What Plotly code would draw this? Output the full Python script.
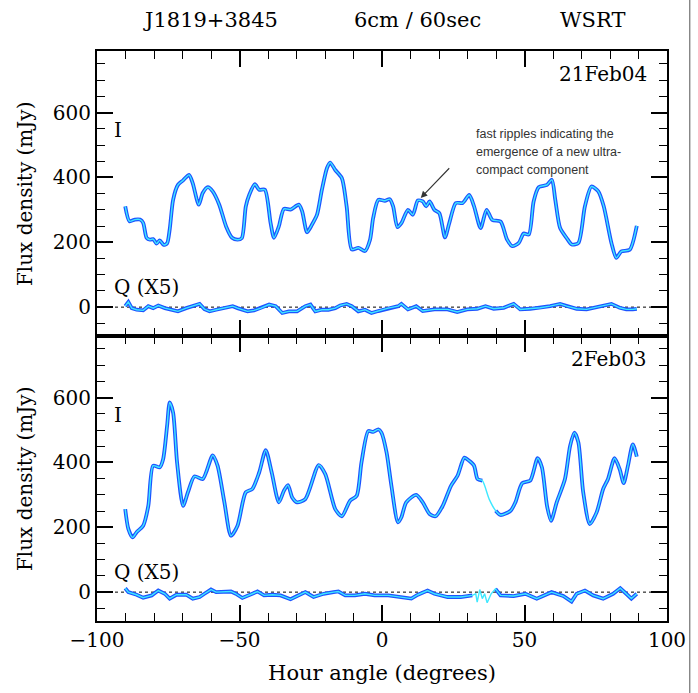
import plotly.graph_objects as go

# ---------------- data ----------------
# 21Feb04 : Stokes I
ha_i_top = [-90.1, -88.6, -86.7, -84.9, -83.8, -82.6, -81.4, -80.3, -79.1, -78.0, -76.6, -75.4,
            -74.5, -73.3, -71.6, -69.8, -67.7, -66.4, -64.3, -62.9, -61.1, -59.4, -57.1, -54.7,
            -52.6, -50.7, -49.2, -47.8, -46.6, -44.6, -43.1, -41.1, -39.1, -37.9, -36.2, -34.4,
            -32.1, -29.2, -28.0, -26.3, -24.6, -22.8, -21.1, -19.3, -18.2, -16.4, -14.1, -12.4,
            -10.6, -8.3, -6.0, -4.2, -3.1, -1.3, 1.0, 2.7, 3.9, 5.4, 6.8, 9.1, 10.8, 12.6, 14.3,
            15.5, 16.7, 18.4, 20.1, 22.1, 23.6, 25.9, 28.3, 30.6, 32.3, 34.6, 36.7, 38.7, 41.6,
            43.9, 45.7, 48.0, 49.7, 51.5, 53.2, 55.0, 57.9, 59.6, 60.8, 62.5, 64.8, 66.6, 68.9,
            71.2, 73.5, 75.9, 77.8, 80.5, 82.2, 84.0, 86.9, 89.4]
i_top = [311, 265, 270, 270, 260, 214, 208, 210, 196, 206, 192, 197,
         239, 331, 377, 391, 408, 382, 316, 352, 370, 357, 316, 249,
         214, 208, 213, 310, 346, 379, 362, 362, 260, 214, 249, 303,
         301, 316, 295, 231, 254, 285, 362, 429, 446, 423, 398, 310,
         178, 183, 173, 208, 275, 331, 328, 333, 311, 247, 259, 300, 285, 329, 326,
         311, 326, 300, 290, 215, 259, 321, 321, 346, 311, 244, 300, 269, 264,
         208, 188, 198, 227, 224, 326, 370, 377, 393, 331, 244, 213, 193, 198,
         311, 372, 357, 311, 198, 152, 172, 177, 251]

# 21Feb04 : Stokes Q (x5)
ha_q_top = [-90.1, -89.0, -87.8, -86.1, -83.8, -82.0, -80.3, -78.5, -76.2, -74.5, -71.6, -68.7,
            -66.4, -64.0, -62.3, -60.5, -58.2, -55.9, -52.4, -50.7, -47.2, -44.9, -42.5, -39.6,
            -37.3, -35.0, -32.7, -29.8, -26.9, -25.1, -23.4, -21.1, -18.8, -16.4, -14.7, -12.4,
            -10.6, -8.3, -6.0, -3.7, -1.3, 2.2, 5.7, 6.8, 9.1, 12.0, 14.3, 18.4, 23.0, 26.4,
            29.9, 33.4, 36.3, 39.2, 42.7, 46.2, 48.5, 52.0, 55.5, 59.0, 62.5, 64.8, 68.3, 71.8,
            76.4, 80.5, 83.4, 85.7, 88.0, 89.4]
q_top = [3, 16, -3, -8, -10, 3, -3, 5, -3, -6, -13, -3,
         3, 10, -6, -13, -8, -3, 3, -3, -13, -10, -3, 8,
         3, -18, -13, -13, 3, 8, -13, -8, -8, -3, 5, 10,
         3, -13, -8, -18, -12, -3, 3, 10, -7, 3, -12, -7, -7, -15,
         -7, -5, 3, -5, -2, 10, -7, -5, -2, 3, 10, 3, -5, -7,
         3, 10, -2, -7, -7, -5]

# 2Feb03 : Stokes I
ha_i_bot = [-90.1, -89.0, -87.5, -86.1, -83.8, -82.0, -80.3, -78.0, -76.8, -75.4, -74.5, -73.3,
            -71.9, -69.8, -68.1, -65.8, -62.9, -59.4, -57.7, -55.3, -53.0, -50.7, -47.8, -45.5,
            -43.1, -40.8, -38.7, -36.2, -34.4, -33.0, -31.5, -29.8, -26.9, -22.2, -19.9, -16.4,
            -14.1, -11.2, -8.9, -7.2, -4.8, -3.1, -1.3, -0.2, 1.6, 3.3, 5.6, 6.8, 8.5, 12.0,
            14.3, 16.7, 18.8, 21.3, 24.2, 26.5, 28.9, 30.6, 32.3, 33.5, 35.2, 37.6, 39.9, 41.6,
            45.1, 46.8, 49.2, 52.0, 54.6, 56.1, 57.9, 59.3, 61.3, 64.2, 66.0, 67.5, 68.9, 70.6,
            72.9, 75.3, 77.6, 79.3, 81.6, 83.4, 84.8, 86.3, 88.0, 89.4]
i_bot = [256, 195, 169, 185, 205, 266, 390, 385, 410, 513, 585, 554,
         400, 266, 308, 357, 349, 422, 390, 277, 174, 205, 308, 318,
         369, 438, 369, 277, 313, 330, 292, 277, 287, 392, 364, 256,
         234, 282, 297, 400, 497, 494, 502, 492, 431, 328, 215, 231, 277, 300,
         277, 241, 234, 266, 328, 359, 415, 405, 390, 349, 344, 287, 251, 238,
         251, 277, 336, 344, 413, 385, 266, 220, 277, 349, 451, 492, 462, 308,
         210, 246, 318, 349, 413, 379, 336, 390, 456, 418]

# 2Feb03 : Stokes Q (x5)
ha_q_bot = [-90.1, -89.0, -86.1, -83.8, -80.8, -78.5, -76.2, -74.5, -72.1, -68.7, -66.4, -64.0,
            -62.3, -60.0, -58.2, -55.3, -53.0, -51.3, -49.0, -45.5, -43.7, -41.4, -38.5, -35.6,
            -32.1, -29.8, -26.9, -24.0, -20.5, -17.0, -15.3, -12.9, -9.5, -6.0, -2.6, 2.2,
            6.8, 10.3, 12.6, 16.0, 18.4, 23.0, 27.6, 31.7, 32.9, 33.4, 34.3, 35.2, 36.0, 36.9,
            38.3, 39.8, 41.6, 46.2, 50.3, 54.3, 59.5, 63.6, 66.5, 68.3, 71.2, 74.1, 77.6, 81.1,
            83.6, 85.7, 87.5, 89.4]
q_bot = [12, 0, -8, -17, -10, 5, -5, -20, -8, -8, -20, -15,
         -5, 8, 0, 0, 2, -5, -18, -5, 2, -10, -8, -10,
         -22, -12, 0, -15, -5, 0, 2, -10, -10, -5, -10, -10,
         -15, -20, -8, 5, -5, -15, -15, -10, -5, -31, 8, -20, -5, -33,
         -5, 10, -10, -12, -5, -20, 0, -12, -29, -5, 5, -10, -20, -5,
         12, -5, -20, -5]

# hour-angle intervals where only the connecting line (no sample markers) is present
gaps_i_bot = [(35.5, 39.5)]
gaps_q_bot = [(32.5, 39.7)]

title_parts = ["J1819+3845", "6cm / 60sec", "WSRT"]
epochs = ["21Feb04", "2Feb03"]
x_ticks = [-100, -50, 0, 50, 100]
y_ticks = [0, 200, 400, 600]

# ---------------- styling ----------------
BLUE = "#1c54ff"
CYAN = "#3ee8ff"
SERIF = "DejaVu Serif"
FS = 20


def masked(xs, ys, gaps):
    out = []
    for x, y in zip(xs, ys):
        out.append(None if any(a <= x <= b for a, b in gaps) else y)
    return out


fig = go.Figure()


def add_curve(xs, ys, xa, ya, smooth, gaps=()):
    shape = "spline" if smooth else "linear"
    fig.add_trace(go.Scatter(x=xs, y=masked(xs, ys, gaps), xaxis=xa, yaxis=ya, mode="lines",
                             line=dict(color=BLUE, width=3.8, shape=shape, smoothing=0.7),
                             connectgaps=False, hoverinfo="skip", showlegend=False))
    fig.add_trace(go.Scatter(x=xs, y=ys, xaxis=xa, yaxis=ya, mode="lines",
                             line=dict(color=CYAN, width=1.4, shape=shape, smoothing=0.7),
                             hoverinfo="skip", showlegend=False))


add_curve(ha_i_top, i_top, "x2", "y2", True)
add_curve(ha_q_top, q_top, "x2", "y2", False)
add_curve(ha_i_bot, i_bot, "x", "y", True, gaps_i_bot)
add_curve(ha_q_bot, q_bot, "x", "y", False, gaps_q_bot)

axis_common = dict(
    showline=True, linecolor="black", linewidth=2, mirror="ticks",
    ticks="inside", tickcolor="black", tickwidth=1.5, ticklen=16,
    showgrid=False, zeroline=False,
    tickfont=dict(family=SERIF, size=FS, color="black"),
)

yr = [-89, 790]
fig.update_layout(
    width=698, height=693,
    margin=dict(l=97, r=27, t=51, b=71),
    plot_bgcolor="white", paper_bgcolor="white",
    xaxis=dict(domain=[0, 1], anchor="y", range=[-100, 100], tickvals=x_ticks,
               minor=dict(dtick=10, ticks="inside", ticklen=8, tickcolor="black", tickwidth=1.2),
               title=dict(text="Hour angle (degrees)", font=dict(family=SERIF, size=FS + 1, color="black"),
                          standoff=14),
               **axis_common),
    xaxis2=dict(domain=[0, 1], anchor="y2", range=[-100, 100], tickvals=x_ticks, matches="x",
                showticklabels=False,
                minor=dict(dtick=10, ticks="inside", ticklen=8, tickcolor="black", tickwidth=1.2),
                **axis_common),
    yaxis=dict(domain=[0, 0.5], anchor="x", range=yr, tickvals=y_ticks,
               minor=dict(dtick=50, ticks="inside", ticklen=8, tickcolor="black", tickwidth=1.2),
               **axis_common),
    yaxis2=dict(domain=[0.5, 1], anchor="x2", range=yr, tickvals=y_ticks,
                minor=dict(dtick=50, ticks="inside", ticklen=8, tickcolor="black", tickwidth=1.2),
                **axis_common),
)

# dotted zero lines
for xr, yref in (("x2 domain", "y2"), ("x domain", "y")):
    fig.add_shape(type="line", xref=xr, yref=yref, x0=0, x1=1, y0=0, y1=0,
                  line=dict(color="black", width=1, dash="dot"), layer="below")

# right border line of the original figure
fig.add_shape(type="line", xref="paper", yref="paper", x0=1.04, x1=1.04, y0=-0.13, y1=1.1,
              line=dict(color="#555555", width=1))

ann = []
# title
for txt, px in zip(title_parts, [0.199, 0.563, 0.869]):
    ann.append(dict(text=txt, xref="paper", yref="paper", x=px, y=1.054, showarrow=False,
                    xanchor="center", yanchor="middle",
                    font=dict(family=SERIF, size=FS + 1, color="black")))
# y-axis titles
for py in (0.75, 0.25):
    ann.append(dict(text="Flux density (mJy)", xref="paper", yref="paper", x=-0.127, y=py,
                    textangle=-90, showarrow=False, xanchor="center", yanchor="middle",
                    font=dict(family=SERIF, size=FS, color="black")))
# panel labels
for (xa, ya), ep in zip((("x2", "y2"), ("x", "y")), epochs):
    ann.append(dict(text=ep, xref=xa, yref=ya, x=93.6, y=720, showarrow=False,
                    xanchor="right", yanchor="middle", font=dict(family=SERIF, size=FS, color="black")))
    ann.append(dict(text="I", xref=xa, yref=ya, x=-92.6, y=546, showarrow=False,
                    xanchor="center", yanchor="middle", font=dict(family=SERIF, size=FS, color="black")))
    ann.append(dict(text="Q (X5)", xref=xa, yref=ya, x=-94.8, y=62, showarrow=False,
                    xanchor="left", yanchor="middle", font=dict(family=SERIF, size=FS, color="black")))

# explanatory note with arrow
for txt, yy in zip(["fast ripples indicating the", "emergence of a new ultra-", "compact component"],
                   [534, 479, 424]):
    ann.append(dict(text=txt, xref="x2", yref="y2", x=32.4, y=yy, showarrow=False,
                    xanchor="left", yanchor="middle",
                    font=dict(family="Liberation Sans", size=12.5, color="#333333")))
ann.append(dict(text="", xref="x2", yref="y2", x=13.6, y=337, axref="x2", ayref="y2",
                ax=24.1, ay=433, showarrow=True, arrowhead=2, arrowsize=1.2, arrowwidth=1.1,
                arrowcolor="#333333"))

fig.update_layout(annotations=ann)

fig.write_html("out.html")
